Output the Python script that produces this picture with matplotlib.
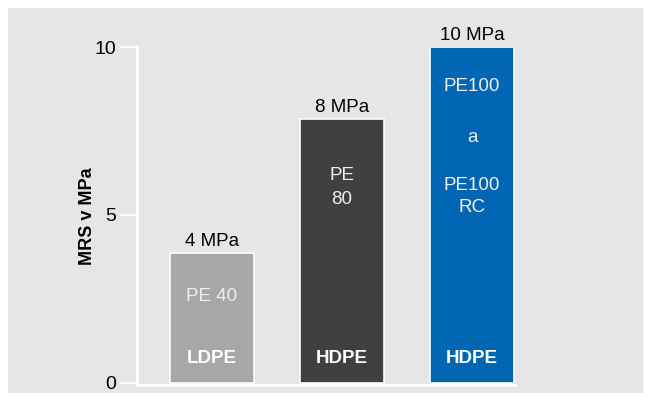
import matplotlib.pyplot as plt
from matplotlib.patches import Rectangle

plt.rcParams['font.family'] = ['Liberation Sans', 'DejaVu Sans']

# data
typy = ['LDPE', 'HDPE', 'HDPE']
tridy = [['PE 40'], ['PE', '80'], ['PE100', 'a', 'PE100', 'RC']]
mrs = [3.87, 7.86, 10.0]
popisky = ['4 MPa', '8 MPa', '10 MPa']
barvy = ['#a6a7a9', '#404041', '#0066b3']
yticks = [0, 5, 10]

# vyska radku textu uvnitr sloupcu (v jednotkach osy)
radky = [[2.56], [6.19, 5.45], [8.81, 7.32, 5.89, 5.21]]

bg = '#e6e6e8'

fig = plt.figure(figsize=(6.45, 3.93), dpi=100)
fig.patch.set_facecolor('white')
fig.patches.append(Rectangle((8/645, 0), 635/645, 1 - 8/393, transform=fig.transFigure,
                             facecolor=bg, edgecolor='none', zorder=-1))

ax = fig.add_axes([137/645, 1 - 385/393, (515 - 137)/645, (385 - 47)/393])
ax.set_facecolor(bg)

x = list(range(len(mrs)))
ax.bar(x, mrs, width=0.645, color=barvy, edgecolor='white', linewidth=1.2, zorder=2)

ax.set_xlim(-0.577, 2.33)
ax.set_ylim(-0.06, 10)

# popisky nad sloupci
for xi, v, t in zip(x, mrs, popisky):
    ax.annotate(t, (xi, v), xytext=(0, 2), textcoords='offset points',
                ha='center', va='bottom', fontsize=13.5, color='black')

# typ PE dole ve sloupci
for xi, t in zip(x, typy):
    ax.text(xi, 0.72, t, ha='center', va='center', fontsize=13.5,
            fontweight='bold', color='white', zorder=3)

# tridy uvnitr sloupcu
for xi, ys, ts in zip(x, radky, tridy):
    for y, t in zip(ys, ts):
        ax.text(xi, y, t, ha='center', va='center', fontsize=13.5,
                color='#eeeeee', zorder=3)

for s in ['top', 'right']:
    ax.spines[s].set_visible(False)
for s in ['left', 'bottom']:
    ax.spines[s].set_color('white')
    ax.spines[s].set_linewidth(2.2)

ax.set_yticks(yticks)
ax.set_xticks([])
ax.tick_params(axis='y', colors='white', length=12, width=1.5, pad=3, labelsize=14,
               labelcolor='black')

ax.set_ylabel('MRS v MPa', fontsize=13, fontweight='bold', va='center')
ax.yaxis.set_label_coords(-0.132, 0.5)

fig.savefig('out.png', dpi=100, facecolor=fig.get_facecolor())
